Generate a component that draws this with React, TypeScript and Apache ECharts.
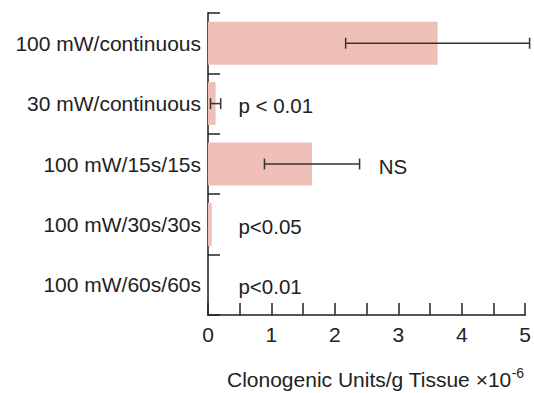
import React, { useEffect, useRef } from "react";
import * as echarts from "echarts";

const categories = [
  "100 mW/continuous",
  "30 mW/continuous",
  "100 mW/15s/15s",
  "100 mW/30s/30s",
  "100 mW/60s/60s",
];
const values = [3.62, 0.12, 1.64, 0.06, 0];
const errors = [1.45, 0.08, 0.75, 0, 0];
const annotTexts = ["", "p < 0.01", "NS", "p<0.05", "p<0.01"];
const annotX = [0, 0.48, 2.69, 0.48, 0.48];
const xTicks = [0, 1, 2, 3, 4, 5];

export default function App() {
  const ref = useRef<HTMLDivElement>(null);
  useEffect(() => {
    if (!ref.current) return;
    const chart = echarts.init(ref.current, null, { renderer: "svg" });
    const font = "'Liberation Sans', Arial, Helvetica, sans-serif";
    const fs = 21;
    const errData = values.map((v, i) => [i, v, errors[i]]).filter((d) => d[2] > 0);
    const annData = annotTexts
      .map((t, i) => ({ value: [annotX[i], i], text: t }))
      .filter((d) => d.text !== "");
    chart.setOption({
      animation: false,
      grid: { left: 208, top: 13, right: 6, bottom: 78, containLabel: false },
      xAxis: {
        type: "value",
        min: 0,
        max: 5,
        interval: 0.5,
        axisLine: { show: true, lineStyle: { color: "#555", width: 2 } },
        axisTick: { show: true, inside: true, length: 12, lineStyle: { color: "#222", width: 1.5 } },
        splitLine: { show: false },
        axisLabel: {
          margin: 9,
          fontSize: fs,
          fontFamily: font,
          color: "#222",
          formatter: (v: number) => (xTicks.indexOf(v) >= 0 ? String(v) : ""),
        },
      },
      yAxis: {
        type: "category",
        data: categories,
        inverse: true,
        axisLine: { show: true, lineStyle: { color: "#555", width: 2 } },
        axisTick: { show: true, inside: true, length: 12, lineStyle: { color: "#222", width: 1.5 } },
        axisLabel: { margin: 7, fontSize: fs, fontFamily: font, color: "#222" },
        splitLine: { show: false },
      },
      series: [
        {
          type: "bar",
          data: values,
          barWidth: "71%",
          itemStyle: { color: "#efc0b8" },
          z: 1,
        },
        {
          type: "custom",
          clip: false,
          z: 5,
          data: errData,
          renderItem: (params: any, api: any) => {
            const i = api.value(0);
            const v = api.value(1);
            const e = api.value(2);
            const lo = api.coord([v - e, i]);
            const hi = api.coord([v + e, i]);
            const h = 5.5;
            const style = { stroke: "#333", lineWidth: 1.5 };
            return {
              type: "group",
              children: [
                { type: "line", shape: { x1: lo[0], y1: lo[1], x2: hi[0], y2: hi[1] }, style },
                { type: "line", shape: { x1: lo[0], y1: lo[1] - h, x2: lo[0], y2: lo[1] + h }, style },
                { type: "line", shape: { x1: hi[0], y1: hi[1] - h, x2: hi[0], y2: hi[1] + h }, style },
              ],
            };
          },
        },
        {
          type: "custom",
          clip: false,
          z: 6,
          data: annData,
          renderItem: (params: any, api: any) => {
            const idx = params.dataIndex;
            const p = api.coord([api.value(0), api.value(1)]);
            return {
              type: "text",
              x: p[0],
              y: p[1] + 2,
              style: {
                text: annData[idx].text,
                fontSize: 20.5,
                fontFamily: font,
                fill: "#222",
                align: "left",
                verticalAlign: "middle",
              },
            };
          },
        },
      ],
      graphic: [
        {
          type: "text",
          left: 227,
          top: 366,
          style: {
            text: "Clonogenic Units/g Tissue \u00d710{sup|-6}",
            fontSize: fs,
            fontFamily: font,
            fill: "#222",
            rich: {
              sup: { fontSize: 14, fontFamily: font, fill: "#222", verticalAlign: "top", padding: [0, 0, 12, 0] },
            },
          },
        },
      ],
    });
    return () => chart.dispose();
  }, []);
  return <div ref={ref} style={{ width: 534, height: 393, position: "absolute", left: 0, top: 0 }} />;
}
